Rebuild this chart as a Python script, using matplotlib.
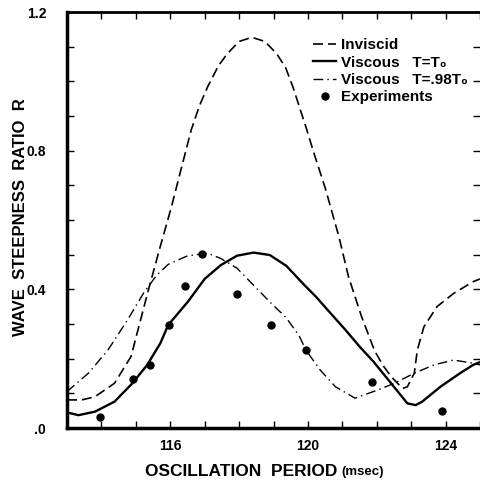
import numpy as np
import matplotlib
matplotlib.use('Agg')
import matplotlib.pyplot as plt
from matplotlib.ticker import MultipleLocator

plt.rcParams['font.family'] = ['Liberation Sans', 'DejaVu Sans']
plt.rcParams['font.weight'] = 'bold'

# Inviscid theory (dashed)
inv_x = [113.0, 113.43, 113.81, 114.38, 114.86, 115.12, 115.37, 115.7, 116.04, 116.35,
         116.61, 116.85, 117.09, 117.4, 117.66, 118.0, 118.37, 118.75, 119.09, 119.35,
         119.56, 119.94, 120.2, 120.51, 120.9, 121.18, 121.56, 121.94, 122.2, 122.42,
         122.75, 122.89, 123.09, 123.18, 123.37, 123.75, 124.23, 124.8, 125.0]
inv_y = [0.081, 0.081, 0.090, 0.129, 0.206, 0.305, 0.400, 0.520, 0.640, 0.760,
         0.860, 0.930, 0.985, 1.045, 1.080, 1.115, 1.127, 1.115, 1.080, 1.040,
         0.985, 0.869, 0.785, 0.690, 0.552, 0.436, 0.321, 0.222, 0.178, 0.148,
         0.114, 0.119, 0.158, 0.225, 0.292, 0.350, 0.388, 0.422, 0.430]

# Viscous, T = T0 (solid)
vis_x = [113.0, 113.33, 113.81, 114.38, 114.9, 115.33, 115.71, 115.94, 116.51, 117.0,
         117.47, 117.94, 118.42, 118.89, 119.37, 119.9, 120.23, 120.65, 121.09, 121.5,
         121.9, 122.45, 122.89, 123.13, 123.32, 123.85, 124.42, 124.8, 125.0]
vis_y = [0.045, 0.037, 0.047, 0.076, 0.129, 0.182, 0.244, 0.297, 0.364, 0.430,
         0.470, 0.497, 0.506, 0.499, 0.468, 0.412, 0.379, 0.332, 0.283, 0.235,
         0.192, 0.125, 0.071, 0.066, 0.076, 0.119, 0.158, 0.182, 0.190]

# Viscous, T = .98 T0 (dash-dot)
vis98_x = [113.0, 113.62, 114.19, 114.76, 115.23, 115.6, 115.94, 116.51, 117.09, 117.47,
           117.94, 118.42, 118.89, 119.37, 119.75, 119.94, 120.35, 120.8, 121.37, 122.04,
           122.51, 123.09, 123.66, 124.23, 124.8, 125.0]
vis98_y = [0.105, 0.158, 0.225, 0.312, 0.390, 0.440, 0.472, 0.497, 0.504, 0.489,
           0.461, 0.412, 0.364, 0.318, 0.265, 0.225, 0.168, 0.119, 0.086, 0.110,
           0.129, 0.158, 0.182, 0.196, 0.187, 0.182]

# Experiments (dots)
exp_x = [113.95, 114.93, 115.41, 115.96, 116.44, 116.91, 117.94, 118.94, 119.94, 121.87, 123.89]
exp_y = [0.031, 0.140, 0.182, 0.297, 0.410, 0.501, 0.386, 0.297, 0.225, 0.134, 0.050]

fig = plt.figure(figsize=(4.8, 4.86), dpi=100)
ax = fig.add_axes([67/480, 1-428/486, 413/480, 416/486])

ax.plot(inv_x, inv_y, 'k', ls=(0, (6, 3)), lw=1.2, label='Inviscid')
ax.plot(vis_x, vis_y, 'k-', lw=1.7, label='Viscous   T=T\u2080')
ax.plot(vis98_x, vis98_y, 'k', ls=(0, (7, 3, 1, 3)), lw=1.0, label='Viscous   T=.98T\u2080')
ax.plot(exp_x, exp_y, 'ko', ms=5, ls='none', label='Experiments')

ax.set_xlim(113, 125)
ax.set_ylim(0, 1.2)
ax.xaxis.set_major_locator(MultipleLocator(4))
ax.xaxis.set_minor_locator(MultipleLocator(1))
ax.yaxis.set_major_locator(MultipleLocator(0.4))
ax.yaxis.set_minor_locator(MultipleLocator(0.1))
ax.set_yticks([0, 0.4, 0.8, 1.2])
ax.set_yticklabels(['.0', '0.4', '0.8', '1.2'])
ax.tick_params(which='both', direction='in', top=True, right=True, length=5, width=1)
ax.tick_params(axis='y', pad=15, labelsize=10)
ax.tick_params(axis='x', pad=8, labelsize=10)

for s in ['left', 'bottom']:
    ax.spines[s].set_linewidth(2.5)
ax.spines['top'].set_linewidth(2)
ax.spines['right'].set_visible(False)

leg = ax.legend(loc='upper left', bbox_to_anchor=(0.596, 0.937), frameon=False,
                fontsize=11, handlelength=1.5, handletextpad=0.35, labelspacing=0.22,
                borderpad=0, borderaxespad=0)

fig.text(0.702, 0.029, 'OSCILLATION  PERIOD', ha='right', va='center', fontsize=12.5)
fig.text(0.712, 0.029, '(msec)', ha='left', va='center', fontsize=9.5)
fig.text(0.042, 0.553, 'WAVE  STEEPNESS  RATIO  R', rotation=90, ha='center', va='center',
         fontsize=12)

fig.savefig('out.png', dpi=100)
